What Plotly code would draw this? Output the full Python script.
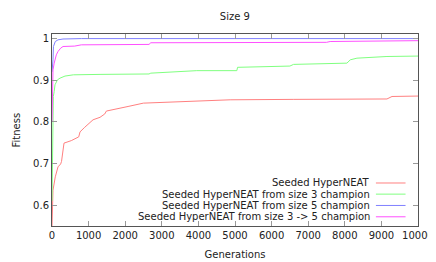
import plotly.graph_objects as go

title_text = "Size 9"
x_title = "Generations"
y_title = "Fitness"

series_names = [
    "Seeded HyperNEAT",
    "Seeded HyperNEAT from size 3 champion",
    "Seeded HyperNEAT from size 5 champion",
    "Seeded HyperNEAT from size 3 -> 5 champion",
]
series_colors = ["#ff8080", "#80ff80", "#8080ff", "#ff50ff"]

red_x = [0, 10, 27, 90, 164, 237, 260, 328, 528, 730, 766, 894, 1076, 1121, 1312, 1441, 1486,
         1805, 2078, 2497, 3200, 4320, 4867, 6590, 9152, 9290, 10000]
red_y = [0.55, 0.604, 0.636, 0.668, 0.692, 0.699, 0.705, 0.749, 0.755, 0.764, 0.776, 0.787, 0.800,
         0.805, 0.811, 0.819, 0.826, 0.831, 0.837, 0.845, 0.847, 0.850, 0.853, 0.854, 0.855, 0.861, 0.862]

green_x = [0, 15, 36, 60, 82, 150, 219, 355, 583, 1312, 2650, 2700, 3227, 3956, 5050, 5070,
           6500, 6600, 8058, 8150, 8332, 9152, 10000]
green_y = [0.61, 0.84, 0.861, 0.873, 0.889, 0.901, 0.905, 0.910, 0.913, 0.914, 0.915, 0.917,
           0.919, 0.923, 0.923, 0.931, 0.934, 0.938, 0.941, 0.949, 0.953, 0.957, 0.958]

blue_x = [0, 15, 27, 40, 90, 164, 300, 800, 10000]
blue_y = [0.92, 0.935, 0.949, 0.981, 0.993, 0.997, 0.999, 1.0, 1.0]

magenta_x = [0, 20, 27, 60, 118, 164, 237, 301, 620, 802, 2650, 2700, 7500, 7600, 10000]
magenta_y = [0.80, 0.90, 0.925, 0.941, 0.961, 0.969, 0.977, 0.981, 0.982, 0.985, 0.986, 0.990,
             0.991, 0.993, 0.995]

x_tickvals = [0, 1000, 2000, 3000, 4000, 5000, 6000, 7000, 8000, 9000, 10000]
x_ticktext = ["0", "1000", "2000", "3000", "4000", "5000", "6000", "7000", "8000", "9000", "10000"]
y_tickvals = [0.6, 0.7, 0.8, 0.9, 1.0]
y_ticktext = ["0.6", "0.7", "0.8", "0.9", "1"]

xs = [red_x, green_x, blue_x, magenta_x]
ys = [red_y, green_y, blue_y, magenta_y]

FONT = "DejaVu Sans"
TXT = "#222"
fig = go.Figure()
for name, color, x, y in zip(series_names, series_colors, xs, ys):
    fig.add_trace(go.Scatter(x=x, y=y, mode="lines", name=name,
                             line=dict(color=color, width=1), showlegend=False))

# gnuplot-style legend: right-aligned text with line sample on the right
legend_rows_y = [0.224, 0.166, 0.107, 0.048]
for name, color, ly in zip(series_names, series_colors, legend_rows_y):
    fig.add_annotation(x=0.874, y=ly, xref="paper", yref="paper", text=name,
                       showarrow=False, xanchor="right", yanchor="middle",
                       font=dict(family=FONT, size=10, color=TXT))
    fig.add_shape(type="line", xref="paper", yref="paper", x0=0.885, x1=0.966,
                  y0=ly, y1=ly, line=dict(color=color, width=1))

# y-axis title placed like gnuplot (far left)
fig.add_annotation(x=-0.1202, y=0.5, xref="paper", yref="paper", text=y_title,
                   showarrow=False, xanchor="left", yanchor="middle", textangle=-90,
                   font=dict(family=FONT, size=10, color=TXT))

axis_common = dict(showgrid=False, zeroline=False, showline=True, linecolor="#555",
                   linewidth=1, mirror="allticks", ticks="inside", ticklen=5,
                   tickcolor="#999", automargin=False,
                   tickfont=dict(family=FONT, size=10, color=TXT))

# the page body has an 8px margin, so the figure is sized/offset to compensate
fig.update_layout(
    width=428, height=254,
    margin=dict(l=44, r=18, t=26, b=36),
    paper_bgcolor="white", plot_bgcolor="white",
    title=dict(text=title_text, x=0.530, xanchor="center", y=0.965, yanchor="middle",
               font=dict(family=FONT, size=10, color=TXT), automargin=False),
    xaxis=dict(range=[0, 10000], tickvals=x_tickvals, ticktext=x_ticktext,
               title=dict(text=x_title, font=dict(family=FONT, size=10, color=TXT), standoff=10),
               **axis_common),
    yaxis=dict(range=[0.55, 1.011], tickvals=y_tickvals, ticktext=y_ticktext,
               **axis_common),
)

fig.write_html("out.html")
